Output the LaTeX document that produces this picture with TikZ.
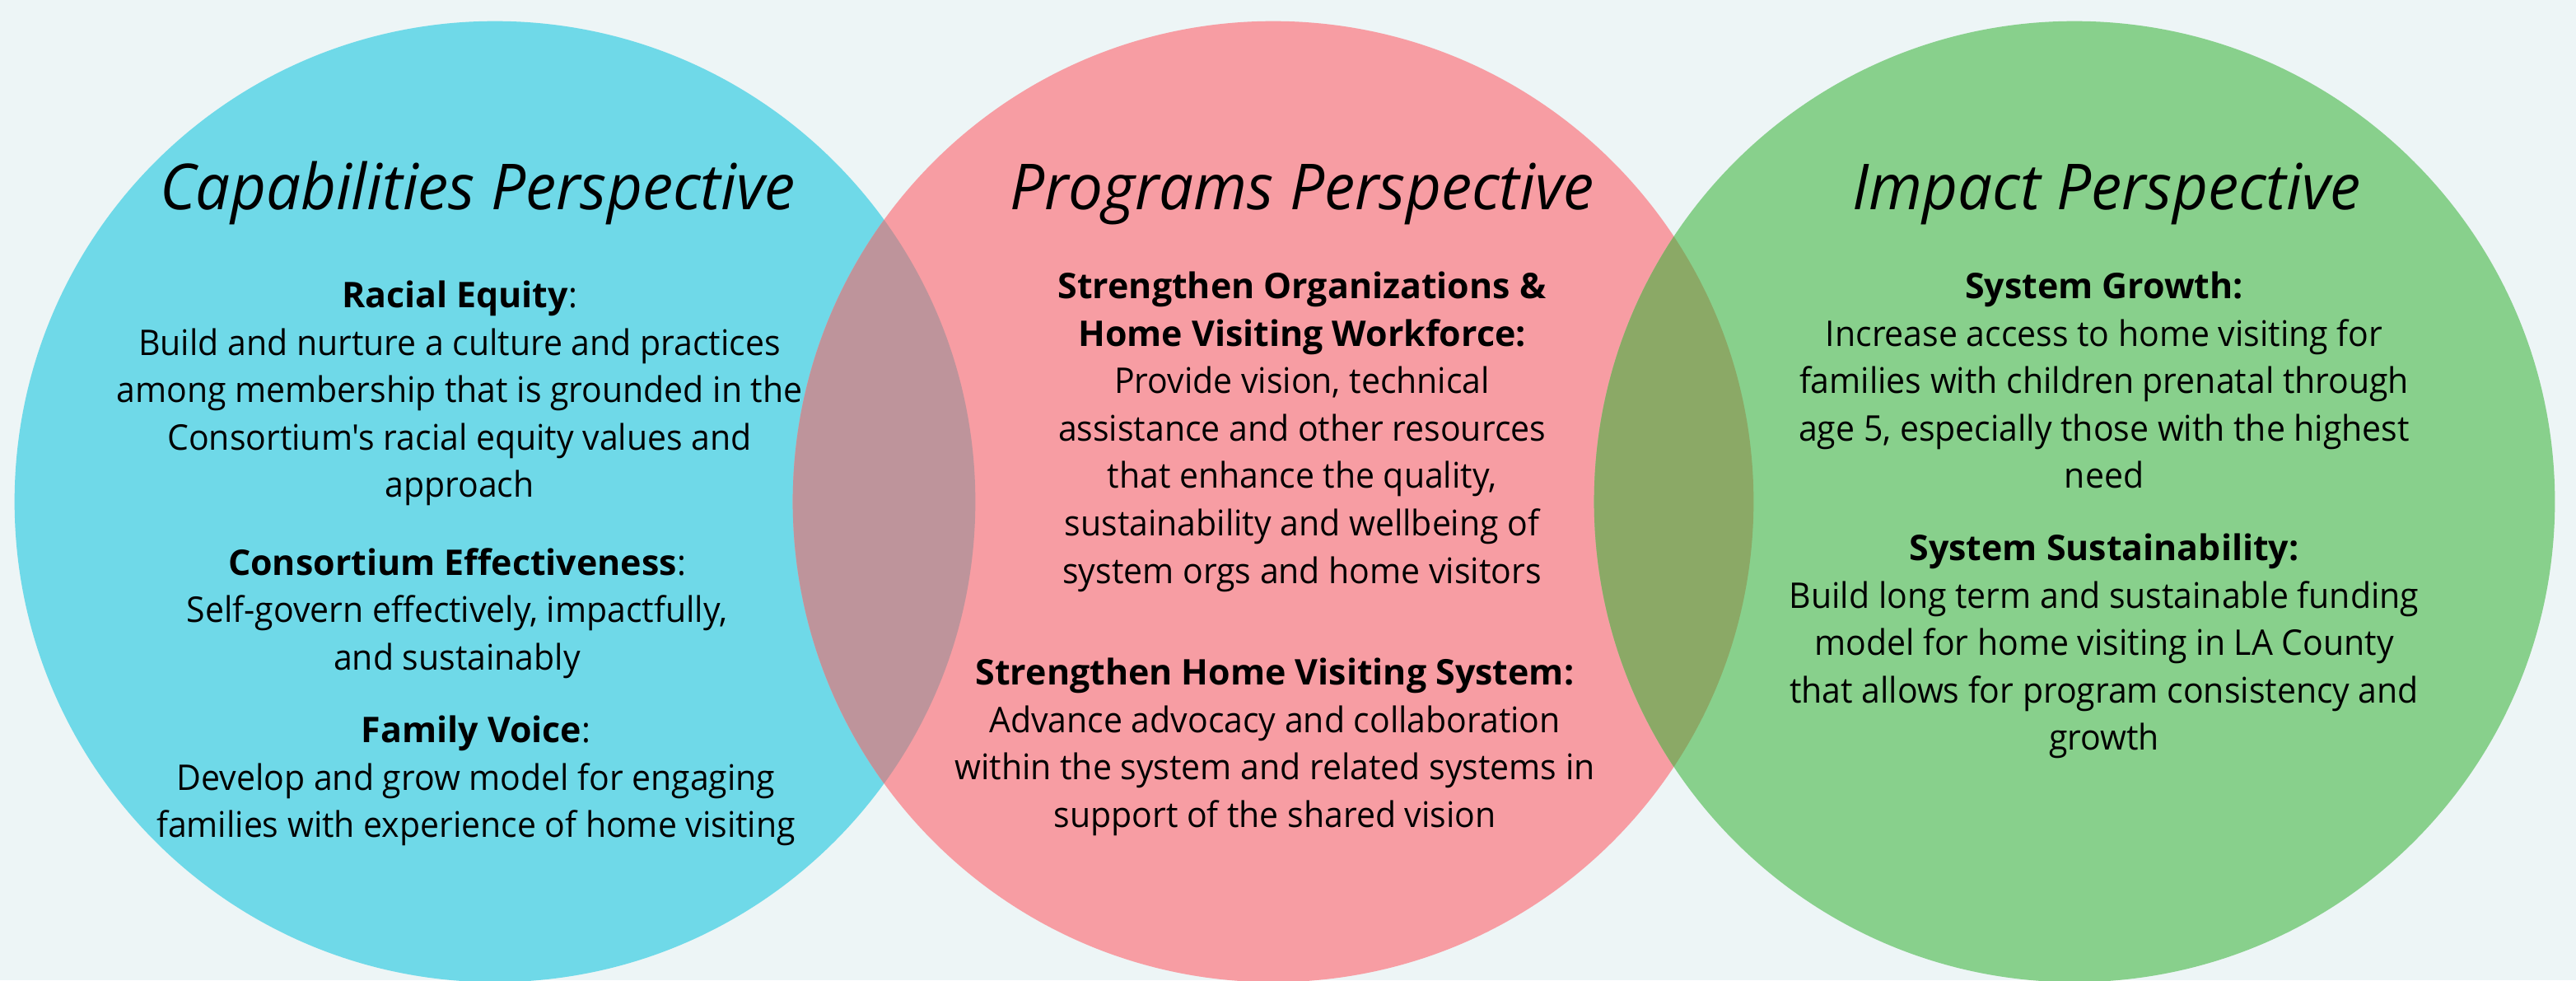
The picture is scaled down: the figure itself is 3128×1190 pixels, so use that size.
\documentclass[tikz,border=0pt]{standalone}
\usepackage{fontspec}
\setmainfont{Open Sans}
\newfontfamily\titlefont[FakeStretch=0.967]{Open Sans}
\newfontfamily\bodyfont[FakeStretch=0.955]{Open Sans}
\newcommand\headtxt[1]{{\normalfont\bfseries #1}}
\definecolor{bgcol}{HTML}{EDF5F6}
\definecolor{capcol}{HTML}{6FD9E8}
\definecolor{progcol}{HTML}{F79DA3}
\definecolor{impcol}{HTML}{88D08C}
\definecolor{capprog}{HTML}{BE949B}
\definecolor{progimp}{HTML}{8BA966}

\begin{document}
\begin{tikzpicture}[x = 0.01cm, y = -0.01cm,
	pertitle/.style = {anchor = base, inner sep = 0pt, font = \titlefont\fontsize{21.9}{26}\selectfont\itshape},
	blurb/.style = {anchor = north, align = center, inner sep = 0pt, font = \fontsize{12.2}{16.36}\selectfont\bodyfont}]
	\useasboundingbox (0,0) rectangle (3128,1190);
	\fill[bgcol] (0,0) rectangle (3128,1190);
	\coordinate (cap) at (601,609);
	\coordinate (prog) at (1546,609);
	\coordinate (imp) at (2519,609);
	\fill[capcol] (cap) circle [radius = 5.83cm];
	\fill[progcol] (prog) circle [radius = 5.83cm];
	\fill[impcol] (imp) circle [radius = 5.83cm];
	\begin{scope}
		\clip (cap) circle [radius = 5.83cm];
		\fill[capprog] (prog) circle [radius = 5.83cm];
	\end{scope}
	\begin{scope}
		\clip (imp) circle [radius = 5.83cm];
		\fill[progimp] (prog) circle [radius = 5.83cm];
	\end{scope}

	\node[pertitle] (capT) at (580,254) {Capabilities Perspective};
	\node[pertitle] (progT) at (1581,254) {Programs Perspective};
	\node[pertitle] (impT) at (2558,254) {Impact Perspective};

	\node[blurb] (cap1) at (558,340.5) {\headtxt{Racial Equity}:\\Build and nurture a culture and practices\\among membership that is grounded in the\\Consortium's racial equity values and\\approach};
	\node[blurb] (cap2) at (555,664.5) {\headtxt{Consortium Effectiveness}:\\Self-govern effectively, impactfully,\\and sustainably};
	\node[blurb] (cap3) at (578,868.5) {\headtxt{Family Voice}:\\Develop and grow model for engaging\\families with experience of home visiting};

	\node[blurb] (prog1) at (1581,329.5) {\headtxt{Strengthen Organizations \&}\\\headtxt{Home Visiting Workforce:}\\Provide vision, technical\\assistance and other resources\\that enhance the quality,\\sustainability and wellbeing of\\system orgs and home visitors};
	\node[blurb] (prog2) at (1548,798.5) {\headtxt{Strengthen Home Visiting System:}\\Advance advocacy and collaboration\\within the system and related systems in\\support of the shared vision};

	\node[blurb] (imp1) at (2555,329.5) {\headtxt{System Growth:}\\Increase access to home visiting for\\families with children prenatal through\\age 5, especially those with the highest\\need};
	\node[blurb] (imp2) at (2555,647.5) {\headtxt{System Sustainability:}\\Build long term and sustainable funding\\model for home visiting in LA County\\that allows for program consistency and\\growth};
\end{tikzpicture}
\end{document}
